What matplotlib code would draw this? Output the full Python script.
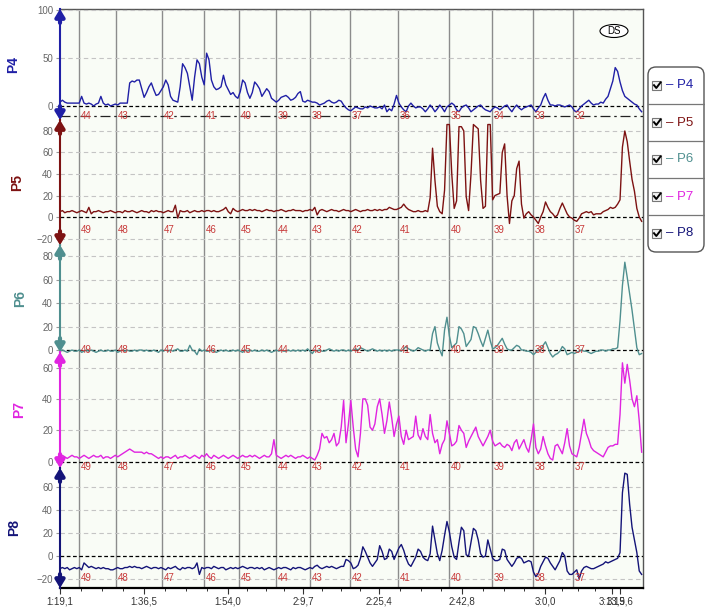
import numpy as np
import matplotlib
matplotlib.use('Agg')
import matplotlib.pyplot as plt
from matplotlib.patches import FancyBboxPatch, Ellipse, Rectangle
from matplotlib.lines import Line2D

plt.rcParams['font.family'] = ['Liberation Sans', 'DejaVu Sans']

# ---------------- data ----------------
t_start = 79.1      # seconds (1:19,1)
dt = 0.5            # sampling interval in seconds

p4 = [4,6,4,3,3,3,3,3,3,10,3,2,3,2,0,2,3,10,3,1,
      2,0,1,2,1,3,3,3,3,24,26,25,27,27,18,9,14,20,24,17,
      11,12,16,20,27,22,10,6,5,4,20,44,40,34,20,6,30,48,44,30,
      22,55,48,27,20,17,18,20,32,22,17,12,14,10,8,15,27,24,14,8,
      14,25,22,18,10,14,18,15,8,6,4,6,9,10,11,9,6,7,9,13,
      15,5,4,6,5,4,4,3,1,2,3,5,6,4,3,4,6,5,1,-2,
      -4,-5,-3,-1,-2,-3,-3,-1,-2,0,-1,-2,-2,-1,-3,1,-6,-3,-5,2,
      11,3,-1,-4,-6,0,3,0,-2,-1,-1,-3,-6,-3,1,-2,-6,-3,1,-2,
      -6,-1,1,3,1,-4,-6,-2,0,1,-2,-6,-4,-2,0,1,-2,-4,-5,-6,
      -3,-1,-2,-4,-2,0,1,-3,-6,-2,1,-2,-4,-2,-1,0,1,-3,-6,-2,
      1,8,13,6,1,1,0,1,1,0,-1,0,1,-1,-5,-6,-3,0,2,4,
      6,3,1,2,2,4,3,7,10,18,26,40,36,25,16,10,8,6,4,2,
      1,-3,-6]

p5 = [5,6,4,5,5,6,5,4,5,6,5,4,9,3,5,5,6,5,4,5,
      5,6,5,4,5,5,4,6,5,5,6,5,4,5,6,5,5,4,6,5,
      6,5,5,4,5,6,5,5,11,-1,6,5,5,6,4,5,6,5,5,6,
      5,6,6,5,6,5,5,6,7,9,5,3,8,6,5,6,7,6,6,7,
      6,7,6,6,5,6,7,6,6,5,6,6,7,6,5,6,6,7,6,6,
      6,5,6,6,7,6,9,2,6,7,6,5,6,7,6,6,5,6,7,6,
      6,5,6,7,6,5,6,6,7,6,6,7,6,7,6,7,7,9,8,7,
      7,8,9,12,9,7,6,5,5,6,5,5,6,5,18,64,34,10,5,3,
      25,86,86,40,8,15,84,84,80,19,6,40,86,84,82,34,8,10,86,86,
      16,20,21,22,60,68,20,-6,15,20,45,52,12,-1,3,5,2,0,-3,-6,
      0,5,14,9,5,3,0,2,8,13,8,3,0,-1,-3,-4,-1,3,4,5,
      4,5,2,3,3,3,5,6,7,9,8,9,12,16,65,80,70,52,35,24,
      8,0,-4]

p6 = [-1,0,-1,-2,-1,0,-1,-1,0,-2,-1,0,-1,0,-1,-2,-1,0,-1,-1,
      0,-1,-1,0,-2,-1,0,-1,0,-1,-1,0,-1,0,0,-1,0,-1,-1,0,
      -1,-2,0,-1,0,-1,0,-1,0,1,-1,-1,0,-1,4,0,-1,-4,1,-1,
      0,-1,-1,0,-1,-2,-1,0,-1,0,-1,-1,0,-1,0,-1,-2,0,-1,0,
      -1,0,-1,-1,0,-1,0,-1,-2,-1,0,-1,0,-1,-1,0,-1,0,-1,0,
      -1,0,-1,1,-1,-3,0,-1,0,-1,-1,0,1,0,-1,0,-1,0,0,-1,
      0,-1,0,1,0,2,1,0,-1,0,1,0,-1,0,-1,0,-1,0,-1,0,
      0,0,-1,1,3,1,0,-1,0,2,1,0,-1,0,0,14,20,6,0,-5,
      17,28,12,2,4,6,20,18,14,3,6,9,20,19,14,8,3,10,17,8,
      1,2,4,7,10,5,1,0,0,2,4,3,0,0,-1,-1,-2,-4,-2,0,
      0,4,7,2,-3,-6,-4,-3,-1,3,1,-4,-3,-2,-3,-2,-1,0,-1,-1,
      -2,-3,-2,-1,-1,0,0,-1,0,0,1,1,2,25,55,75,62,48,34,18,
      2,-4,-3]

p7 = [3,4,3,2,3,4,3,3,2,3,4,3,2,3,4,3,3,4,2,3,
      3,2,3,4,3,4,5,6,7,8,7,6,6,6,6,5,6,5,5,4,
      3,2,3,2,3,3,2,3,4,2,3,3,4,3,2,3,4,3,2,4,
      3,5,3,2,4,3,2,3,4,3,2,3,4,3,2,3,4,3,3,4,
      3,4,3,2,3,4,3,3,5,14,4,3,2,3,4,3,4,3,2,3,
      3,4,3,2,3,2,1,4,8,18,15,16,12,14,18,10,12,22,39,12,
      24,39,22,8,3,18,40,40,36,22,20,24,35,40,30,18,26,38,28,16,
      24,29,16,11,20,14,15,16,29,17,14,21,16,14,30,18,12,14,5,11,
      14,26,18,10,11,13,23,20,18,9,13,16,19,22,16,13,10,13,16,20,
      13,10,11,12,10,9,11,10,7,12,14,8,11,14,9,6,14,24,9,5,
      8,16,10,5,2,1,10,11,8,5,12,21,10,5,4,3,9,18,27,18,
      14,9,7,6,5,4,3,6,9,10,10,11,11,30,63,50,62,52,40,35,
      42,26,6]

p8 = [-11,-10,-11,-10,-12,-11,-10,-11,-10,-12,-6,-8,-10,-9,-10,-11,-10,-11,-10,-11,
      -11,-12,-12,-11,-10,-11,-11,-10,-10,-9,-10,-9,-10,-10,-11,-10,-9,-10,-11,-10,
      -10,-11,-10,-11,-12,-10,-11,-10,-9,-11,-12,-10,-11,-10,-10,-11,-10,-6,-16,-10,
      -11,-10,-10,-11,-9,-10,-11,-10,-10,-12,-11,-10,-11,-10,-11,-10,-9,-10,-11,-10,
      -10,-11,-10,-11,-10,-12,-11,-10,-11,-12,-11,-10,-11,-10,-10,-11,-12,-10,-11,-10,
      -10,-11,-12,-11,-10,-11,-9,-8,-10,-11,-10,-9,-10,-9,-10,-11,-10,-9,-9,-3,
      -4,-6,-11,-10,-8,-2,8,4,-1,-6,-9,-6,-3,9,4,-3,-2,6,4,-3,
      2,7,10,5,-2,-7,-9,-5,-1,6,4,-1,-3,-4,2,26,14,2,-4,5,
      18,30,21,8,-1,-3,12,25,22,1,0,12,24,22,14,2,-1,0,14,6,
      -2,-4,-4,-3,6,5,-3,-6,-9,-6,-2,-1,-2,-6,-5,-4,-5,-14,-18,-15,
      -9,-5,-1,-2,-6,-9,-12,-8,-4,3,0,-13,-16,-16,-14,-12,-20,-13,-10,-9,
      -10,-11,-11,-10,-9,-8,-7,-5,-6,-5,-4,-3,-2,3,55,72,71,45,25,14,
      3,-13,-16]

series_names = ['P4', 'P5', 'P6', 'P7', 'P8']
series_colors = ['#2020a6', '#7d1212', '#4f8f8f', '#e024e0', '#141478']

marker_times = [83.1, 90.8, 100.3, 109.1, 116.3, 124.0, 131.1, 139.4,
                149.4, 160.0, 169.0, 177.5, 185.8]
markers_p4 = ['44', '43', '42', '41', '40', '39', '38', '37', '36', '35', '34', '33', '32']
markers_other = ['49', '48', '47', '46', '45', '44', '43', '42', '41', '40', '39', '38', '37']

x_tick_times = [79.1, 96.5, 114.0, 129.7, 145.4, 162.8, 180.0, 193.9, 195.6]
x_tick_labels = ['1:19,1', '1:36,5', '1:54,0', '2:9,7', '2:25,4', '2:42,8', '3:0,0', '3:13,9', '3:15,6']
x_min, x_max = 79.1, 200.38

# ---------------- layout ----------------
W, H = 705, 610
fig = plt.figure(figsize=(W / 100, H / 100), dpi=100)
fig.patch.set_facecolor('white')


def box(top, bottom, left=60, right=643):
    return [left / W, 1 - bottom / H, (right - left) / W, (bottom - top) / H]


t = t_start + dt * np.arange(len(p4))

# background axes: plot face, vertical marker lines, x axis
bg = fig.add_axes(box(9, 588), zorder=0)
bg.set_facecolor('#f9fcf6')
bg.set_xlim(x_min, x_max)
bg.set_ylim(0, 1)
for tm in marker_times:
    bg.axvline(tm, color='#8c8c8c', lw=1.0)
bg.set_yticks([])
bg.set_xticks(x_tick_times)
bg.set_xticklabels(x_tick_labels)
minor = []
for a, b in zip(x_tick_times[:-2], x_tick_times[1:-1]):
    minor += [a + (b - a) * k / 4 for k in (1, 2, 3)]
bg.set_xticks(minor, minor=True)
bg.tick_params(axis='x', which='major', length=4, width=0.8, color='#333333',
               labelsize=7, labelcolor='#333333', pad=2)
bg.tick_params(axis='x', which='minor', length=2.5, width=0.7, color='#333333')
for s in ('top', 'right'):
    bg.spines[s].set_color('#555555')
    bg.spines[s].set_linewidth(1.0)
bg.spines['left'].set_visible(False)
bg.spines['bottom'].set_color('black')
bg.spines['bottom'].set_linewidth(1.6)

panels = [
    # values, (top px, bottom px), ylim, yticks, marker-label level, labels, ylabel x
    (p4, (9, 120), (-14.6, 101), [0, 50, 100], -10, markers_p4, -0.068),
    (p5, (120, 245), (-26, 90.2), [-20, 0, 20, 40, 60, 80], -12, markers_other, -0.062),
    (p6, (245, 352), (-1.7, 89.7), [0, 20, 40, 60, 80], 0, markers_other, -0.056),
    (p7, (352, 468), (-4.1, 69.9), [0, 20, 40, 60], -3.5, markers_other, -0.058),
    (p8, (468, 588), (-27.8, 76.5), [-20, 0, 20, 40, 60], -19, markers_other, -0.066),
]

for i, (vals, (top, bot), ylim, yt, mlev, mlabels, lx) in enumerate(panels):
    c = series_colors[i]
    ax = fig.add_axes(box(top, bot), zorder=2 + i * 0.01)
    ax.patch.set_visible(False)
    ax.set_xlim(x_min, x_max)
    ax.set_ylim(*ylim)
    for v in yt:
        if v == 0:
            ax.axhline(0, color='black', lw=0.9, ls=(0, (3, 2)), zorder=1)
        else:
            ax.axhline(v, color='#c4c4c4', lw=0.8, ls=(0, (4, 3)), zorder=1)
    if i == 0:
        ax.axhline(mlev, color='#222222', lw=0.9, ls=(0, (8, 3, 2, 3)), zorder=1)
    ax.plot(t, vals, color=c, lw=1.0, clip_on=False, zorder=3)
    for tm, lab in zip(marker_times, mlabels):
        ax.annotate(lab, (tm, mlev), xytext=(1.2, 0), textcoords='offset points',
                    ha='left', va='center', fontsize=7, color='#c83a3a',
                    annotation_clip=False, zorder=4)
    for s in ('top', 'right', 'bottom'):
        ax.spines[s].set_visible(False)
    ax.spines['left'].set_color(c)
    ax.spines['left'].set_linewidth(1.5)
    ax.set_xticks([])
    ax.set_yticks(yt)
    ax.tick_params(axis='y', length=3, width=0.8, color='#999999', pad=2,
                   labelsize=7, labelcolor='#666666')
    ax.set_ylabel(series_names[i], color=c, fontsize=10, fontweight='bold')
    ax.yaxis.set_label_coords(lx, 0.5)
    # axis arrows
    ap = dict(arrowstyle='-|>,head_width=0.26,head_length=0.42', lw=3.0,
              color=c, shrinkA=0, shrinkB=0)
    ax.annotate('', xy=(0, 1), xycoords='axes fraction', xytext=(0, -10),
                textcoords='offset points', arrowprops=ap, annotation_clip=False, zorder=6)
    ax.annotate('', xy=(0, 0), xycoords='axes fraction', xytext=(0, 10),
                textcoords='offset points', arrowprops=ap, annotation_clip=False, zorder=6)

# overlay in pixel coordinates for legend and DS badge
ov = fig.add_axes([0, 0, 1, 1], zorder=10)
ov.set_xlim(0, W)
ov.set_ylim(H, 0)
ov.axis('off')
ov.patch.set_visible(False)

ov.add_patch(Ellipse((614, 31), 28, 13, fc='white', ec='black', lw=0.8))
ov.text(614, 31.5, 'DS', ha='center', va='center', fontsize=7, color='black')

lg_top, lg_row = 67, 37
ov.add_patch(FancyBboxPatch((648, lg_top), 56, lg_row * 5,
                            boxstyle='round,pad=0,rounding_size=8',
                            fc='white', ec='#555555', lw=1.0))
for k, (name, c) in enumerate(zip(series_names, series_colors)):
    cy = lg_top + lg_row * (k + 0.5)
    if k > 0:
        ov.add_line(Line2D([648, 704], [lg_top + lg_row * k] * 2, color='#777777', lw=0.9))
    ov.add_patch(Rectangle((652, cy - 4.5), 9, 9, fc='#f2f2f2', ec='#777777', lw=0.8))
    ov.add_line(Line2D([654, 656.3, 660.5], [cy - 0.3, cy + 2.5, cy - 3], color='black', lw=1.4))
    ov.text(666, cy, '– ' + name, ha='left', va='center', fontsize=9.5, color=c)

fig.savefig('out.png', dpi=100, facecolor='white')
